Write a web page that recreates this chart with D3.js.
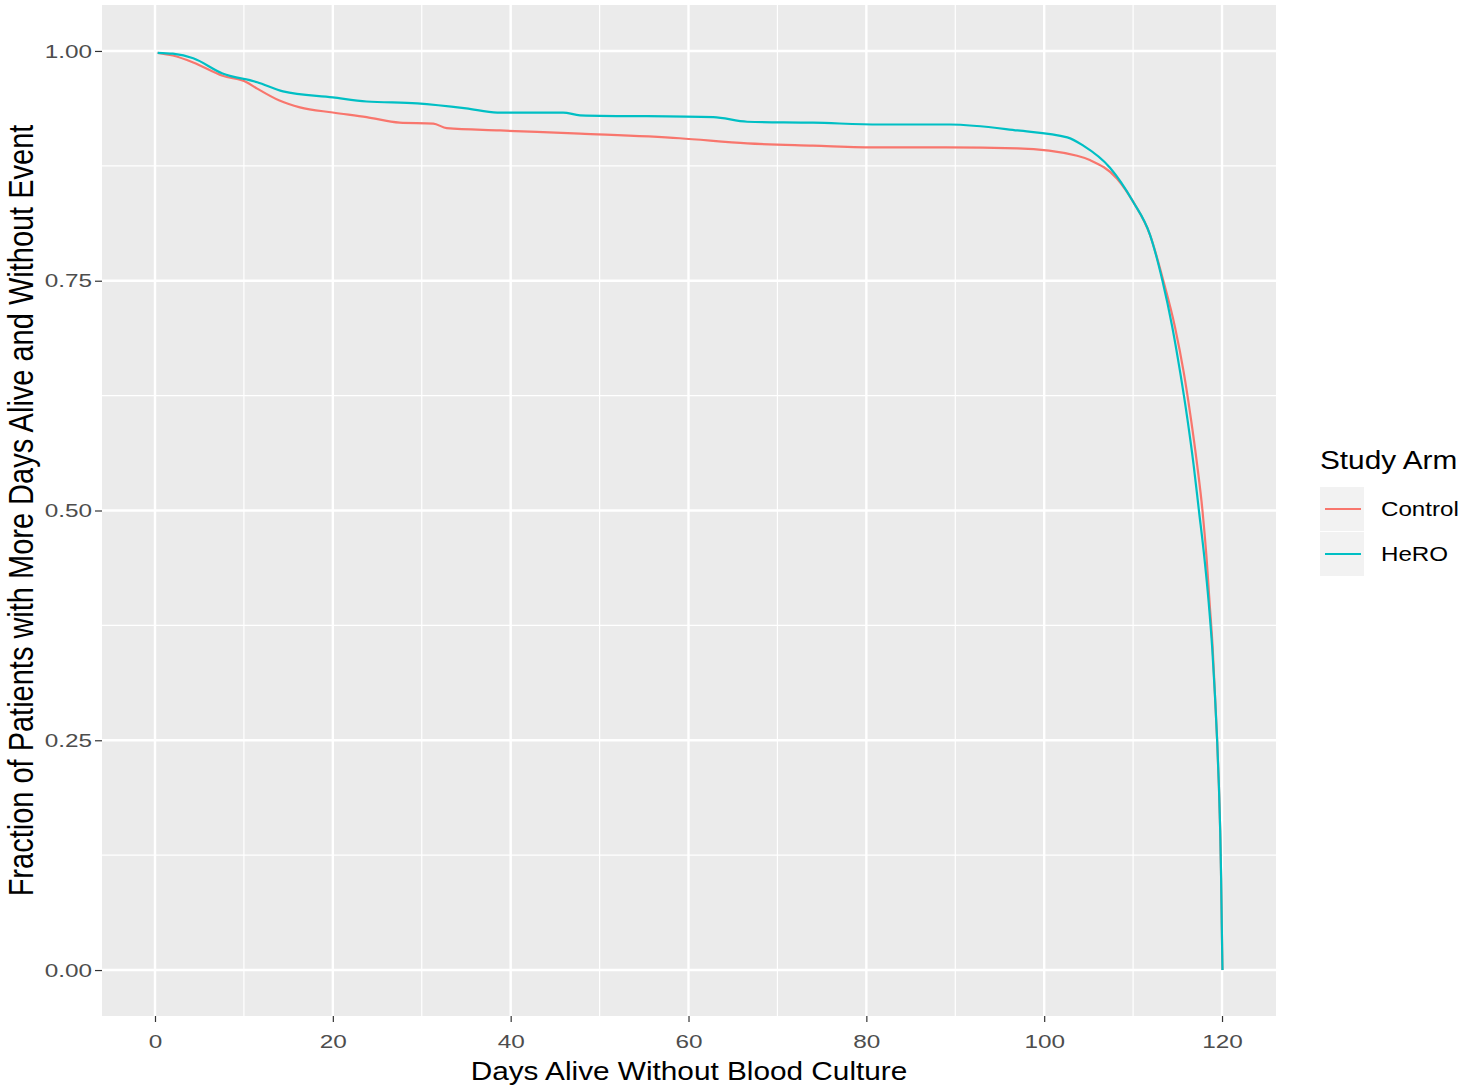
<!DOCTYPE html>
<html>
  <head>
    <meta charset="utf-8" />
    <title>Days alive without blood culture</title>
    <style>
      body { margin: 0; background: #fff; }
      text { font-family: "Liberation Sans", Arial, sans-serif; }
    </style>
  </head>
  <body>
  <div id="container"></div>
  <script src="https://cdn.jsdelivr.net/npm/d3@7/dist/d3.min.js"></script>
  <script type="text/javascript">

    // curve values (day, fraction)
    var controlDays = [0.3, 2, 4.3, 7.6, 10.3, 11.5, 14, 16.3, 20, 23.8, 27.5, 31.3, 32.8, 38.8, 47.8, 59, 66.6, 74, 81.5, 89, 97, 103.7, 105.2, 108.2, 110, 111.9, 113.4, 114.7, 115.7, 116.5, 117.2, 117.8, 118.25, 118.6, 118.95, 119.2, 119.45, 119.65, 119.8, 119.9, 119.97, 120.05];
    var controlVals = [0.998, 0.995, 0.9875, 0.973, 0.966, 0.959, 0.946, 0.9386, 0.933, 0.928, 0.922, 0.921, 0.916, 0.9135, 0.910, 0.905, 0.8994, 0.897, 0.895, 0.895, 0.894, 0.886, 0.881, 0.861, 0.836, 0.80, 0.75, 0.70, 0.65, 0.60, 0.55, 0.50, 0.45, 0.40, 0.35, 0.30, 0.25, 0.20, 0.15, 0.10, 0.05, 0.0];

    var heroDays = [0.3, 2, 4.3, 7.6, 11.5, 14.4, 20, 23.8, 29.5, 35, 38.5, 45.9, 47.8, 62.8, 66.6, 74, 81.5, 89.4, 97, 102.6, 104.4, 107.4, 110, 111.9, 113.3, 114.4, 115.3, 116.1, 116.8, 117.4, 118.0, 118.5, 118.9, 119.2, 119.45, 119.65, 119.8, 119.9, 119.97, 120.05];
    var heroVals = [0.998, 0.997, 0.992, 0.9755, 0.966, 0.956, 0.9494, 0.945, 0.943, 0.9375, 0.933, 0.933, 0.930, 0.928, 0.923, 0.922, 0.920, 0.920, 0.9135, 0.906, 0.897, 0.873, 0.836, 0.80, 0.75, 0.70, 0.65, 0.60, 0.55, 0.50, 0.45, 0.40, 0.35, 0.30, 0.25, 0.20, 0.15, 0.10, 0.05, 0.0];

    var seriesNames = ['Control', 'HeRO'];
    var seriesColors = ['#F8766D', '#00BFC4'];
    var xTicks = [0, 20, 40, 60, 80, 100, 120];
    var yTicks = [0, 0.25, 0.5, 0.75, 1];
    var xMinor = [10, 30, 50, 70, 90, 110];
    var yMinor = [0.125, 0.375, 0.625, 0.875];

    var width = 1474;
    var height = 1086;
    var panel = {left: 102, right: 1276, top: 5, bottom: 1016};

    var svg = d3.select('#container').append('svg').attr('width', width).attr('height', height);

    var x = d3.scaleLinear().domain([-5.96, 126.07]).range([panel.left, panel.right]);
    var y = d3.scaleLinear().domain([-0.05, 1.05]).range([panel.bottom, panel.top]);

    // the picture is a little wider than tall, so text gets stretched sideways
    var stretch = function(sel, f){
      sel.each(function(){
        var len = this.getComputedTextLength();
        d3.select(this).attr('textLength', len * f).attr('lengthAdjust', 'spacingAndGlyphs');
      });
    };

    // panel background
    svg.append('rect')
      .attr('x', panel.left).attr('y', panel.top)
      .attr('width', panel.right - panel.left).attr('height', panel.bottom - panel.top)
      .attr('fill', '#EBEBEB');

    var grid = svg.append('g');
    grid.selectAll('.xminor').data(xMinor).enter().append('line')
      .attr('x1', function(d){return x(d);}).attr('x2', function(d){return x(d);})
      .attr('y1', panel.top).attr('y2', panel.bottom)
      .attr('stroke', '#fff').attr('stroke-width', 1.2);
    grid.selectAll('.yminor').data(yMinor).enter().append('line')
      .attr('y1', function(d){return y(d);}).attr('y2', function(d){return y(d);})
      .attr('x1', panel.left).attr('x2', panel.right)
      .attr('stroke', '#fff').attr('stroke-width', 1.2);
    grid.selectAll('.xmajor').data(xTicks).enter().append('line')
      .attr('x1', function(d){return x(d);}).attr('x2', function(d){return x(d);})
      .attr('y1', panel.top).attr('y2', panel.bottom)
      .attr('stroke', '#fff').attr('stroke-width', 2.4);
    grid.selectAll('.ymajor').data(yTicks).enter().append('line')
      .attr('y1', function(d){return y(d);}).attr('y2', function(d){return y(d);})
      .attr('x1', panel.left).attr('x2', panel.right)
      .attr('stroke', '#fff').attr('stroke-width', 2.4);

    // axes
    var xAxis = svg.append('g').attr('transform', 'translate(0,' + panel.bottom + ')')
      .call(d3.axisBottom(x).tickValues(xTicks).tickSize(6).tickPadding(13).tickFormat(d3.format('d')));
    var yAxis = svg.append('g').attr('transform', 'translate(' + panel.left + ',0)')
      .call(d3.axisLeft(y).tickValues(yTicks).tickSize(7).tickPadding(3).tickFormat(d3.format('.2f')));
    [xAxis, yAxis].forEach(function(a){
      a.select('.domain').remove();
      a.selectAll('line').attr('stroke', '#333').attr('stroke-width', 1.2);
      a.selectAll('text').attr('fill', '#4D4D4D').style('font-size', '19px')
        .style('font-family', '"Liberation Sans", Arial, sans-serif')
        .call(stretch, 1.28);
    });

    // lines
    var line = d3.line().curve(d3.curveMonotoneX)
      .x(function(d){return x(d[0]);}).y(function(d){return y(d[1]);});
    var controlPts = d3.zip(controlDays, controlVals);
    var heroPts = d3.zip(heroDays, heroVals);
    [controlPts, heroPts].forEach(function(pts, i){
      svg.append('path').datum(pts)
        .attr('d', line)
        .attr('fill', 'none')
        .attr('stroke', seriesColors[i])
        .attr('stroke-width', 2.2)
        .attr('stroke-linejoin', 'round');
    });

    // axis titles
    svg.append('text')
      .attr('x', (panel.left + panel.right) / 2).attr('y', 1080)
      .attr('text-anchor', 'middle').attr('fill', '#000')
      .style('font-size', '25px')
      .text('Days Alive Without Blood Culture')
      .call(stretch, 1.19);
    svg.append('text')
      .attr('transform', 'translate(33,' + ((panel.top + panel.bottom) / 2) + ') scale(1.2,1) rotate(-90)')
      .attr('text-anchor', 'middle').attr('fill', '#000')
      .style('font-size', '29px')
      .text('Fraction of Patients with More Days Alive and Without Event');

    // legend
    var legend = svg.append('g').attr('transform', 'translate(1320,0)');
    legend.append('text').attr('x', 0).attr('y', 469)
      .style('font-size', '25px').attr('fill', '#000').text('Study Arm')
      .call(stretch, 1.19);
    seriesNames.forEach(function(name, i){
      var top = 487 + i * 45;
      legend.append('rect').attr('x', 0).attr('y', top).attr('width', 44).attr('height', 44)
        .attr('fill', '#F2F2F2');
      legend.append('line').attr('x1', 5).attr('x2', 41)
        .attr('y1', top + 22).attr('y2', top + 22)
        .attr('stroke', seriesColors[i]).attr('stroke-width', 2.2);
      legend.append('text').attr('x', 61).attr('y', top + 29)
        .style('font-size', '21px').attr('fill', '#000').text(name)
        .call(stretch, 1.15);
    });

  </script>
  </body>
</html>
